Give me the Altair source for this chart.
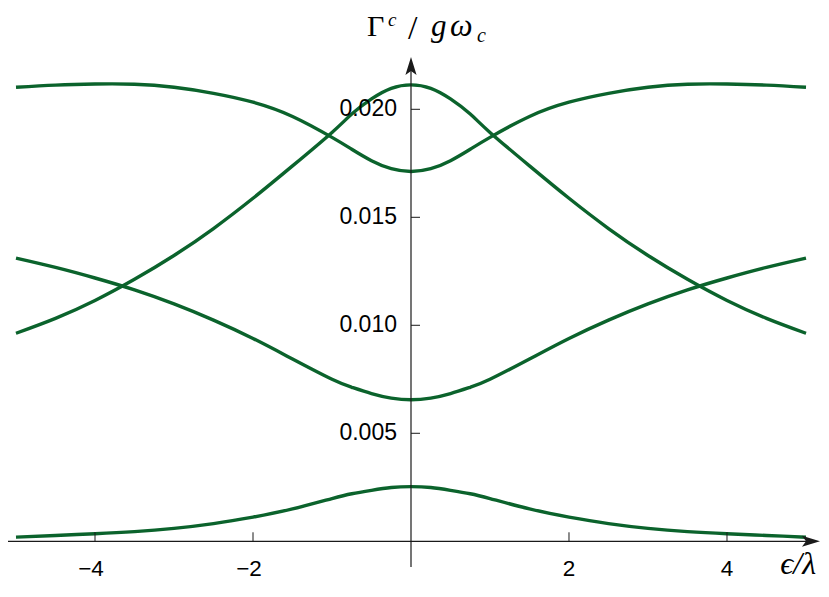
import altair as alt
import pandas as pd

# ---- data ----
x_vals = [-5, -4.5, -4, -3.5, -3, -2.5, -2, -1.5, -1, -0.75, -0.5, -0.25, 0,
          0.25, 0.5, 0.75, 1, 1.5, 2, 2.5, 3, 3.5, 4, 4.5, 5]

curve_a = [0.02102, 0.02112, 0.02117, 0.02116, 0.02102, 0.02074, 0.02033, 0.01967,
           0.01870, 0.01815, 0.01762, 0.01725, 0.01712,
           0.01725, 0.01762, 0.01815, 0.01870, 0.01967, 0.02033, 0.02074, 0.02102,
           0.02116, 0.02117, 0.02112, 0.02102]
curve_b = [0.00963, 0.01032, 0.01115, 0.01213, 0.01323, 0.01448, 0.01588, 0.01738,
           0.01893, 0.01978, 0.02048, 0.02097, 0.02113,
           0.02097, 0.02048, 0.01978, 0.01893, 0.01738, 0.01588, 0.01448, 0.01323,
           0.01213, 0.01115, 0.01032, 0.00963]
curve_c = [0.01311, 0.01268, 0.01219, 0.01164, 0.01099, 0.01024, 0.00939, 0.00844,
           0.00750, 0.00713, 0.00684, 0.00663, 0.00655,
           0.00663, 0.00684, 0.00713, 0.00750, 0.00844, 0.00939, 0.01024, 0.01099,
           0.01164, 0.01219, 0.01268, 0.01311]
curve_d = [0.00019, 0.00027, 0.00035, 0.00045, 0.00060, 0.00082, 0.00112, 0.00150,
           0.00198, 0.00220, 0.00236, 0.00249, 0.00253,
           0.00249, 0.00236, 0.00220, 0.00198, 0.00150, 0.00112, 0.00082, 0.00060,
           0.00045, 0.00035, 0.00027, 0.00019]

x_ticks = [-4, -2, 2, 4]
y_ticks = [0.005, 0.010, 0.015, 0.020]

rows = []
for name, vals in [("a", curve_a), ("b", curve_b), ("c", curve_c), ("d", curve_d)]:
    for xv, yv in zip(x_vals, vals):
        rows.append({"curve": name, "x": xv, "y": yv})
df = pd.DataFrame(rows)

GREEN = "#0b632c"
AX = "#1a1a1a"
W, H = 813, 575
xs = alt.Scale(domain=[-5.1013, 5.1899], nice=False, zero=False)
ys = alt.Scale(domain=[-0.001931, 0.024690], nice=False, zero=False)
one = pd.DataFrame({"k": [0]})


def XD(v):
    return alt.XDatum(v, scale=xs, axis=None)


def YD(v):
    return alt.YDatum(v, scale=ys, axis=None)


lines = alt.Chart(df).mark_line(strokeWidth=3.4, color=GREEN, interpolate="natural").encode(
    x=alt.X("x:Q", scale=xs, axis=None),
    y=alt.Y("y:Q", scale=ys, axis=None),
    detail="curve:N",
)

# axis lines
x_line = alt.Chart(one).mark_rule(color=AX, strokeWidth=1.2).encode(
    x=XD(-5.1013), x2=alt.X2Datum(5.06), y=YD(0))
y_line = alt.Chart(one).mark_rule(color=AX, strokeWidth=1.2).encode(
    x=XD(0), y=YD(-0.00119), y2=alt.Y2Datum(0.0219))

# tick marks
x_tk = alt.Chart(pd.DataFrame({"t": x_ticks})).mark_rule(color=AX, strokeWidth=1, y2Offset=-9).encode(
    x=alt.X("t:Q", scale=xs, axis=None), y=YD(0), y2=alt.Y2Datum(0))
y_tk = alt.Chart(pd.DataFrame({"t": y_ticks})).mark_rule(color=AX, strokeWidth=1, x2Offset=9).encode(
    y=alt.Y("t:Q", scale=ys, axis=None), x=XD(0), x2=alt.X2Datum(0))

# tick labels
tick_df = pd.DataFrame({"t": x_ticks})
x_lab_neg = alt.Chart(tick_df).transform_filter("datum.t < 0").mark_text(
    font="Liberation Sans", fontSize=22.5, color="black", align="center",
    baseline="middle", dy=27.7, dx=-4).encode(
    x=alt.X("t:Q", scale=xs, axis=None), y=YD(0),
    text=alt.Text("t:Q", format="d"))
x_lab_pos = alt.Chart(tick_df).transform_filter("datum.t > 0").mark_text(
    font="Liberation Sans", fontSize=22.5, color="black", align="center",
    baseline="middle", dy=27.7).encode(
    x=alt.X("t:Q", scale=xs, axis=None), y=YD(0),
    text=alt.Text("t:Q", format="d"))
y_lab = alt.Chart(pd.DataFrame({"t": y_ticks})).mark_text(
    font="Liberation Sans", fontSize=23, color="black", align="right",
    baseline="middle", dx=-14).encode(
    y=alt.Y("t:Q", scale=ys, axis=None), x=XD(0),
    text=alt.Text("t:Q", format=".3f"))

# arrowheads
arrow_r = alt.Chart(one).mark_point(
    shape="M1,0 L-1,-0.62 L-0.55,0 L-1,0.62 Z", size=324, filled=True, color=AX,
    opacity=1, strokeWidth=0).encode(x=XD(5.063), y=YD(0))
arrow_u = alt.Chart(one).mark_point(
    shape="M0,-1 L-0.62,1 L0,0.55 L0.62,1 Z", size=324, filled=True, color=AX,
    opacity=1, strokeWidth=0).encode(x=XD(0), y=YD(0.022005))

SERIF = "Liberation Serif, DejaVu Serif, serif"


def txt(t, x, y, size, style="normal", align="left", baseline="alphabetic"):
    return alt.Chart(one).mark_text(text=t, font=SERIF, fontSize=size, fontStyle=style,
                                    align=align, baseline=baseline, color="black").encode(
        x=alt.value(x), y=alt.value(y))


title_parts = [
    txt("Γ", 359, 28, 30),
    txt("c", 380, 18, 19, "italic"),
    txt("/", 400, 31, 34),
    txt("g", 423, 28, 31, "italic"),
    txt("ω", 442, 28, 32, "italic"),
    txt("c", 469, 34, 20, "italic"),
]
xlab = txt("ϵ/λ", 808, 573, 32, "italic", "right", "bottom")

chart = alt.layer(lines, x_line, y_line, x_tk, y_tk, x_lab_neg, x_lab_pos, y_lab,
                  arrow_r, arrow_u, *title_parts, xlab).properties(
    width=W, height=H, padding=0, autosize=alt.AutoSizeParams(type="none"),
    background="white",
).configure_view(stroke=None)

chart.save("out.html", embed_options={"renderer": "svg", "actions": False})
